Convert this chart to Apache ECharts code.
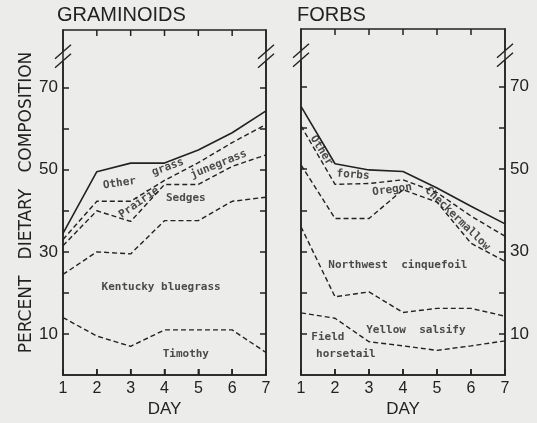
<!DOCTYPE html>
<html>
<head>
<meta charset="utf-8">
<script src="https://cdn.jsdelivr.net/npm/echarts@6/dist/echarts.min.js"></script>
<style>
  html, body { margin: 0; padding: 0; background: #ececea; }
  #chart { width: 537px; height: 423px; }
</style>
</head>
<body>
<div id="chart"></div>
<script>
// x axis: day of trial
var days = [1, 2, 3, 4, 5, 6, 7];

// graminoids - upper edge of each band (cumulative %), first one is the total
var gramTotal     = [34.5, 49.5, 51.6, 51.6, 54.8, 59.0, 64.3];
var gramJunegrass = [33.0, 42.3, 42.3, 47.4, 51.7, 56.6, 61.0];
var gramSedges    = [31.5, 40.0, 37.4, 46.4, 46.4, 50.8, 53.6];
var gramKentucky  = [24.5, 30.0, 29.5, 37.6, 37.6, 42.3, 43.3];
var gramTimothy   = [14.0, 9.5, 7.0, 11.0, 11.0, 11.0, 5.5];

// forbs - same idea
var forbTotal     = [65.2, 51.3, 49.8, 49.4, 45.4, 41.0, 36.7];
var forbMallow    = [60.5, 46.3, 46.5, 47.4, 44.3, 38.6, 33.7];
var forbCinque    = [51.0, 38.0, 38.0, 45.0, 42.0, 32.0, 27.6];
var forbSalsify   = [36.0, 19.0, 20.2, 15.2, 16.2, 16.2, 14.3];
var forbHorsetail = [15.1, 13.8, 8.1, 7.1, 6.0, 7.1, 8.3];

// y ticks / labelled ticks
var yTicks  = [10, 20, 30, 40, 50, 60, 70];
var yLabels = [10, 30, 50, 70];

// band names written inside the plots: [text, day, value, rotate]
var gramNotes = [
  ["Other", 2.67, 46.7, 8],
  ["grass", 4.1, 50.6, 20],
  ["Prairie", 3.25, 42.0, 35],
  ["junegrass", 5.6, 51.3, 22],
  ["Sedges", 4.63, 43.1, 0],
  ["Kentucky bluegrass", 3.9, 21.4, 0],
  ["Timothy", 4.63, 5.2, 0]
];
var forbNotes = [
  ["Other", 1.6, 54.5, -58],
  ["forbs", 2.53, 48.6, -4],
  ["Oregon", 3.68, 45.0, 8],
  ["Checkermallow", 5.6, 38.0, -44],
  ["Northwest  cinquefoil", 3.85, 26.7, 0],
  ["Yellow  salsify", 4.38, 11.0, 0],
  ["Field", 1.79, 9.3, 0],
  ["horsetail", 2.32, 5.0, 0]
];

var ink = "#222";
var bg = "#ececea";
var chart = echarts.init(document.getElementById("chart"));

function pts(arr) {
  return arr.map(function (v, i) { return [days[i], v]; });
}

function band(arr, idx, solid) {
  return {
    type: "line",
    xAxisIndex: idx,
    yAxisIndex: idx * 2,
    data: pts(arr),
    showSymbol: false,
    silent: true,
    lineStyle: {
      color: ink,
      width: solid ? 1.6 : 1.4,
      type: solid ? "solid" : [5, 3]
    }
  };
}

function notes(list, idx) {
  return {
    type: "scatter",
    xAxisIndex: idx,
    yAxisIndex: idx * 2,
    symbolSize: 0,
    silent: true,
    z: 5,
    label: {
      show: true,
      position: "inside",
      formatter: "{b}",
      color: ink,
      fontFamily: "DejaVu Sans Mono",
      fontWeight: "bold",
      fontSize: 11
    },
    data: list.map(function (n) {
      return { name: n[0], value: [n[1], n[2]], label: { rotate: n[3] } };
    })
  };
}

function xAxis(grid) {
  return {
    gridIndex: grid,
    type: "value",
    position: "bottom",
    min: 1,
    max: 7,
    interval: 1,
    splitLine: { show: false },
    axisLine: { onZero: false, lineStyle: { color: ink, width: 1.5 } },
    axisTick: { inside: true, length: 6, lineStyle: { color: ink, width: 1.5 } },
    name: "DAY",
    nameLocation: "middle",
    nameGap: 18,
    nameTextStyle: { fontFamily: "Liberation Sans", fontSize: 17, color: ink },
    axisLabel: { fontFamily: "Liberation Sans", fontSize: 16, color: ink, margin: 5 }
  };
}

function yAxes(grid, labelSide) {
  function one(pos) {
    var ax = {
      gridIndex: grid,
      type: "value",
      position: pos,
      min: 0,
      max: 84,
      splitLine: { show: false },
      axisLine: { onZero: false, lineStyle: { color: ink, width: 1.5 } },
      axisTick: { inside: true, length: 6, customValues: yTicks, lineStyle: { color: ink, width: 1.5 } },
      axisLabel: { show: false }
    };
    if (pos === labelSide) {
      ax.axisLabel = { fontFamily: "Liberation Sans", fontSize: 17, color: ink, margin: 5, customValues: yLabels };
    }
    return ax;
  }
  var left = one("left");
  var right = one("right");
  if (labelSide === "left") {
    left.name = "PERCENT   DIETARY   COMPOSITION";
    left.nameLocation = "middle";
    left.nameRotate = 90;
    left.nameGap = 27;
    left.nameTextStyle = { fontFamily: "DejaVu Sans", fontSize: 17, color: ink };
  }
  return [left, right];
}

// grid border gives the top edge of each box
var box = { show: true, borderColor: ink, borderWidth: 1.5, backgroundColor: "transparent" };

var option = {
  backgroundColor: bg,
  animation: false,
  title: [
    { text: "GRAMINOIDS", left: 57, top: 5, padding: 0,
      textStyle: { fontFamily: "Liberation Sans", fontSize: 20, fontWeight: "normal", color: ink } },
    { text: "FORBS", left: 297, top: 5, padding: 0,
      textStyle: { fontFamily: "Liberation Sans", fontSize: 20, fontWeight: "normal", color: ink } }
  ],
  grid: [
    Object.assign({ left: 63, right: 271, top: 30, bottom: 38 }, box),
    Object.assign({ left: 301, right: 32, top: 29, bottom: 39 }, box)
  ],
  xAxis: [xAxis(0), xAxis(1)],
  yAxis: yAxes(0, "left").concat(yAxes(1, "right")),
  series: [
    band(gramTotal, 0, true),
    band(gramJunegrass, 0),
    band(gramSedges, 0),
    band(gramKentucky, 0),
    band(gramTimothy, 0),
    notes(gramNotes, 0),
    band(forbTotal, 1, true),
    band(forbMallow, 1),
    band(forbCinque, 1),
    band(forbSalsify, 1),
    band(forbHorsetail, 1),
    notes(forbNotes, 1)
  ]
};
chart.setOption(option);

// extra decorations placed through the axes: "//" breaks, day ticks on top and bottom edges
var breakAt = 77.5;
var deco = [];
[0, 1].forEach(function (g) {
  [1, 7].forEach(function (d) {
    var p = chart.convertToPixel({ gridIndex: g }, [d, breakAt]);
    var x = p[0], y = p[1];
    deco.push({
      type: "group",
      z: 10,
      children: [
        { type: "rect", shape: { x: x - 3, y: y - 5, width: 6, height: 10 }, style: { fill: bg } },
        { type: "line", shape: { x1: x - 8, y1: y + 2, x2: x + 8, y2: y - 12 },
          style: { stroke: ink, lineWidth: 1.4 } },
        { type: "line", shape: { x1: x - 8, y1: y + 11, x2: x + 8, y2: y - 3 },
          style: { stroke: ink, lineWidth: 1.4 } }
      ]
    });
  });
  days.slice(1, -1).forEach(function (d) {
    var t = chart.convertToPixel({ gridIndex: g }, [d, 84]);
    var b = chart.convertToPixel({ gridIndex: g }, [d, 0]);
    deco.push({
      type: "line", z: 10,
      shape: { x1: t[0], y1: t[1], x2: t[0], y2: t[1] + 6 },
      style: { stroke: ink, lineWidth: 1.5 }
    });
    deco.push({
      type: "line", z: 10,
      shape: { x1: b[0], y1: b[1], x2: b[0], y2: b[1] - 6 },
      style: { stroke: ink, lineWidth: 1.5 }
    });
  });
});
chart.setOption({ graphic: deco });
</script>
</body>
</html>
